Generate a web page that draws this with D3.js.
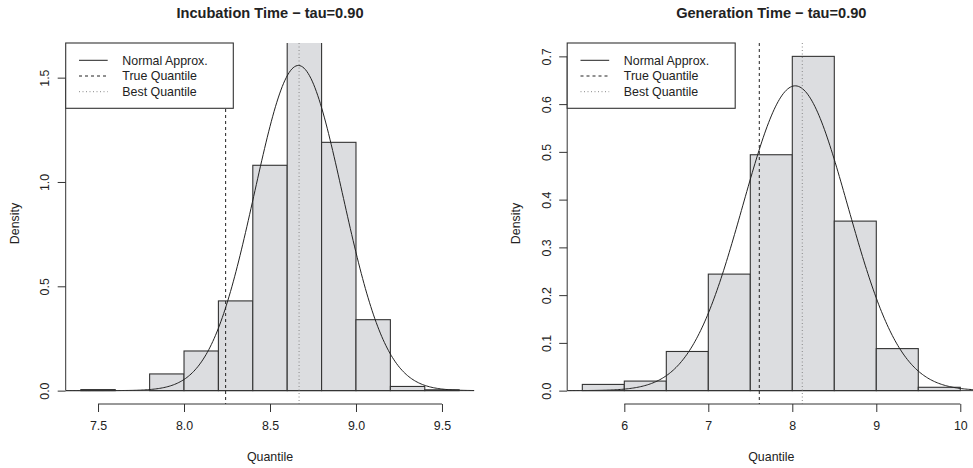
<!DOCTYPE html>
<html><head><meta charset="utf-8">
<script src="https://cdn.jsdelivr.net/npm/d3@7/dist/d3.min.js"></script>
<style>
body{margin:0;background:#fff;}
svg{display:block;font-family:"Liberation Sans",Arial,Helvetica,sans-serif;}
</style></head>
<body>
<svg id="chart" width="973" height="468"></svg>
<script>
// ---- data ----
const incTitle = "Incubation Time \u2212 tau=0.90";
const incBreaks = [7.4,7.6,7.8,8.0,8.2,8.4,8.6,8.8,9.0,9.2,9.4,9.6];
const incDensity = [0.005,0.0,0.08,0.19,0.43,1.08,1.68,1.19,0.34,0.02,0.004];
const incTicksX = [7.5,8.0,8.5,9.0,9.5];
const incTicksY = [0.0,0.5,1.0,1.5];
const incTrueQ = 8.242, incBestQ = 8.669;
const incNormal = [8.665, 0.256]; // mean, sd
const incYmax = 1.602;

const genTitle = "Generation Time \u2212 tau=0.90";
const genBreaks = [5.5,6.0,6.5,7.0,7.5,8.0,8.5,9.0,9.5,10.0];
const genDensity = [0.013,0.02,0.082,0.244,0.494,0.70,0.355,0.088,0.007];
const genTicksX = [6,7,8,9,10];
const genTicksY = [0.0,0.1,0.2,0.3,0.4,0.5,0.6,0.7];
const genTrueQ = 7.607, genBestQ = 8.119;
const genNormal = [8.035, 0.625];
const genYmax = 0.70;

const legendLabels = ["Normal Approx.","True Quantile","Best Quantile"];
const xLabel = "Quantile", yLabel = "Density";

// ---- drawing ----
const svg = d3.select("#chart");
const AX = "#333", TXT = "#222";

function panel(o){
  const left=o.left, right=o.right, top=43, bottom=404;
  const lo=o.breaks[0], hi=o.breaks[o.breaks.length-1], ext=(hi-lo)*0.04;
  const x=d3.scaleLinear().domain([lo-ext,hi+ext]).range([left,right]);
  const y=d3.scaleLinear().domain([-o.ymax*0.04,o.ymax*1.04]).range([bottom,top]);
  const g=svg.append("g");
  const cid="clip"+o.id;
  g.append("clipPath").attr("id",cid).append("rect")
    .attr("x",left).attr("y",top).attr("width",right-left).attr("height",bottom-top);
  const pg=g.append("g").attr("clip-path",`url(#${cid})`);
  const bins=o.density.map((d,i)=>({x0:o.breaks[i],x1:o.breaks[i+1],d}));
  pg.selectAll("rect.bar").data(bins).join("rect").attr("class","bar")
    .attr("x",b=>x(b.x0)).attr("width",b=>x(b.x1)-x(b.x0))
    .attr("y",b=>y(b.d)).attr("height",b=>y(0)-y(b.d))
    .attr("fill","#dcdde0").attr("stroke","#333").attr("stroke-width",1.1);
  // normal curve
  const [m,s]=o.normal;
  const dn=v=>Math.exp(-0.5*((v-m)/s)**2)/(s*Math.sqrt(2*Math.PI));
  const xs=d3.range(0,301).map(i=>x.domain()[0]+(x.domain()[1]-x.domain()[0])*i/300);
  pg.append("path").datum(xs).attr("fill","none").attr("stroke","#222").attr("stroke-width",1)
    .attr("d",d3.line().x(v=>x(v)).y(v=>y(dn(v))));
  // abline h=0
  pg.append("line").attr("x1",left).attr("x2",right).attr("y1",y(0)).attr("y2",y(0))
    .attr("stroke",AX).attr("stroke-width",1);
  // quantile lines
  pg.append("line").attr("x1",x(o.trueQ)).attr("x2",x(o.trueQ)).attr("y1",top).attr("y2",bottom)
    .attr("stroke","#222").attr("stroke-dasharray","3,3");
  pg.append("line").attr("x1",x(o.bestQ)).attr("x2",x(o.bestQ)).attr("y1",top).attr("y2",bottom)
    .attr("stroke","#888").attr("stroke-dasharray","1,2.5");
  // x axis
  const xa=g.append("g").attr("transform",`translate(0,${bottom})`)
    .call(d3.axisBottom(x).tickValues(o.ticksX).tickFormat(o.fmtX).tickSizeOuter(0).tickSize(8).tickPadding(9));
  xa.select(".domain").attr("d",`M${x(o.ticksX[0])},0H${x(o.ticksX[o.ticksX.length-1])}`).attr("stroke",AX);
  xa.selectAll(".tick line").attr("stroke",AX);
  xa.selectAll("text").attr("font-size",12.4).attr("fill",TXT).attr("font-family","Liberation Sans,Arial,sans-serif");
  // y axis
  const ya=g.append("g").attr("transform",`translate(${left},0)`)
    .call(d3.axisLeft(y).tickValues(o.ticksY).tickFormat(d3.format(".1f")).tickSizeOuter(0).tickSize(8));
  ya.select(".domain").attr("d",`M0,${y(o.ticksY[0])}V${y(o.ticksY[o.ticksY.length-1])}`).attr("stroke",AX);
  ya.selectAll(".tick line").attr("stroke",AX);
  ya.selectAll("text").attr("font-size",12.4).attr("fill",TXT).attr("font-family","Liberation Sans,Arial,sans-serif")
    .attr("text-anchor","middle").attr("x",0).attr("y",0).attr("dy","0em")
    .attr("transform",`translate(${-o.ylabOff},0) rotate(-90)`);
  // title and labels
  const cx=(left+right)/2;
  g.append("text").attr("x",cx).attr("y",18).attr("text-anchor","middle").attr("font-weight","bold")
    .attr("font-size",14.6).attr("fill",TXT).text(o.title);
  g.append("text").attr("x",cx).attr("y",461).attr("text-anchor","middle")
    .attr("font-size",12.4).attr("fill",TXT).text(xLabel);
  g.append("text").attr("transform",`translate(${left-47},${(top+bottom)/2}) rotate(-90)`)
    .attr("text-anchor","middle").attr("font-size",12.4).attr("fill",TXT).text(yLabel);
  // legend
  const lg=g.append("g");
  lg.append("rect").attr("x",left).attr("y",top).attr("width",o.legW).attr("height",65.3)
    .attr("fill","#fff").attr("stroke","#333").attr("stroke-width",1.1);
  const styles=[{c:"#222",d:null},{c:"#222",d:"3,3"},{c:"#888",d:"1,2.5"}];
  legendLabels.forEach((lab,i)=>{
    const yy=top+17.3+i*15.7;
    lg.append("line").attr("x1",left+13.3).attr("x2",left+42).attr("y1",yy).attr("y2",yy)
      .attr("stroke",styles[i].c).attr("stroke-dasharray",styles[i].d);
    lg.append("text").attr("x",left+56.6).attr("y",yy).attr("dy","0.35em")
      .attr("font-size",12.4).attr("fill",TXT).text(lab);
  });
}

panel({id:"a",left:65.7,right:474.3,breaks:incBreaks,density:incDensity,ticksX:incTicksX,ticksY:incTicksY,
  fmtX:d3.format(".1f"),trueQ:incTrueQ,bestQ:incBestQ,normal:incNormal,ymax:incYmax,title:incTitle,legW:167.6,ylabOff:17});
panel({id:"b",left:567.2,right:975.4,breaks:genBreaks,density:genDensity,ticksX:genTicksX,ticksY:genTicksY,
  fmtX:d3.format("d"),trueQ:genTrueQ,bestQ:genBestQ,normal:genNormal,ymax:genYmax,title:genTitle,legW:168,ylabOff:16.5});
</script>
</body></html>
